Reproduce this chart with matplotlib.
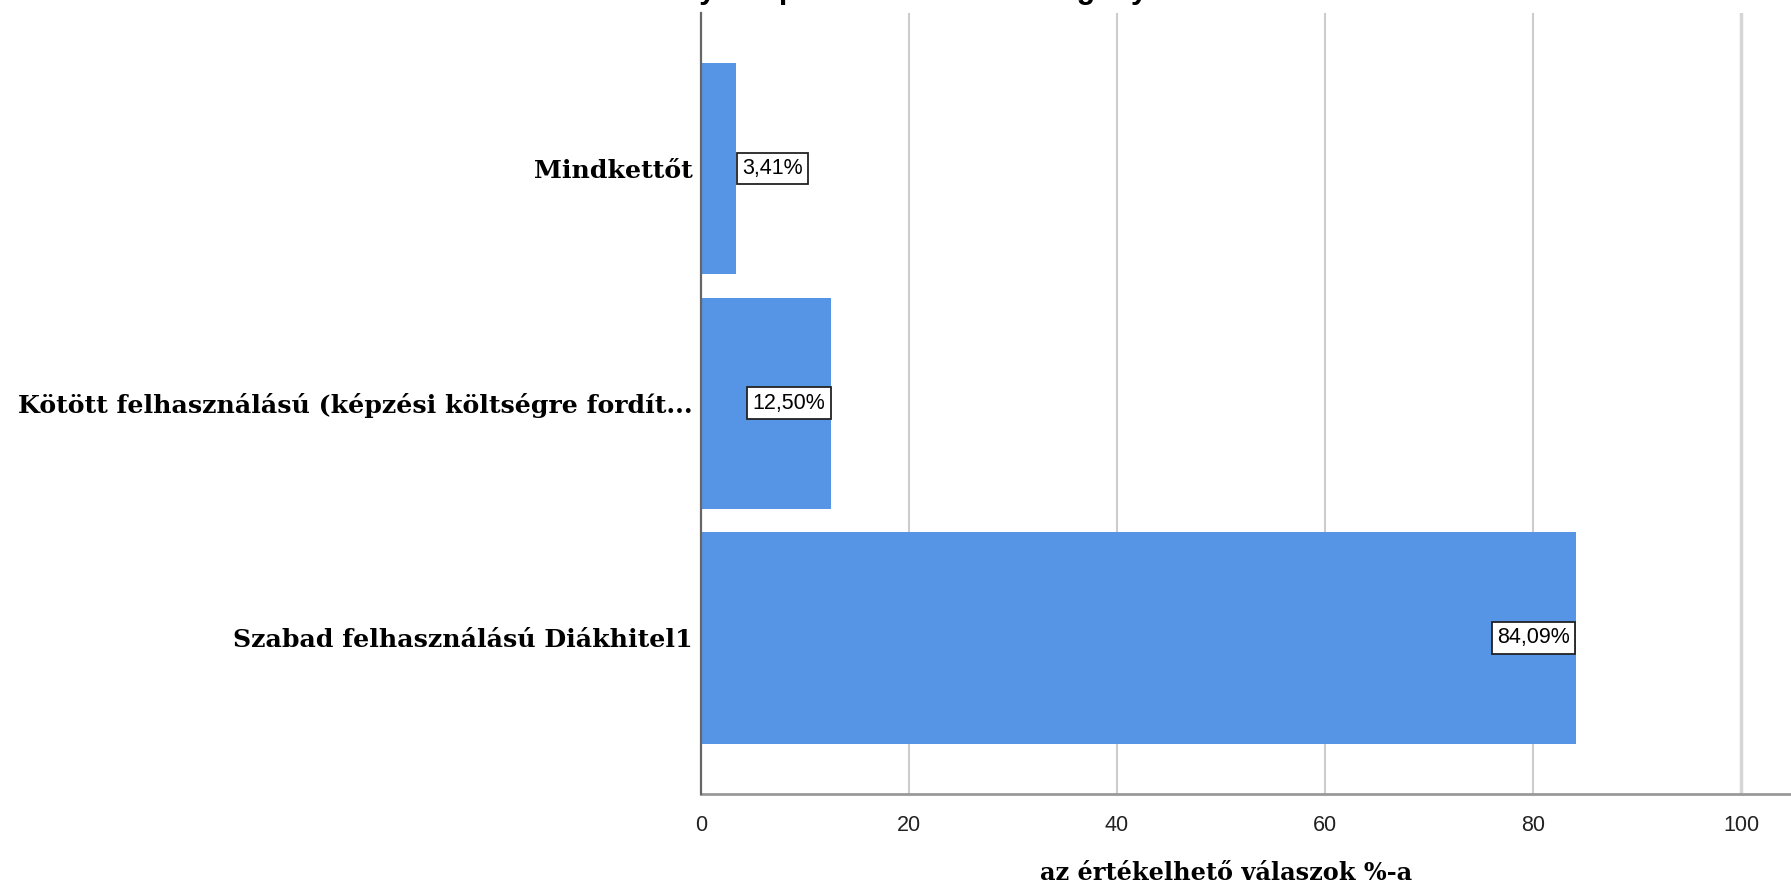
import matplotlib
matplotlib.use("Agg")
import matplotlib.pyplot as plt

# answer categories, bottom to top as drawn
categories = ["Szabad felhasználású Diákhitel1",
              "Kötött felhasználású (képzési költségre fordít...",
              "Mindkettőt"]
percents = [84.09, 12.50, 3.41]
value_labels = ["84,09%", "12,50%", "3,41%"]
xticks = [0, 20, 40, 60, 80, 100]

title = "Milyen típusú Diákhitelt vett igénybe?"
xlabel = "az értékelhető válaszok %-a"

barColor = "#5694E5"
serif = "DejaVu Serif"
sans = "Liberation Sans"

fig = plt.figure(figsize=(17.91, 8.88), dpi=100)
ax = fig.add_axes([701/1791, 1 - 794/888, 1 - 701/1791, (794 - 13)/888])

ypos = list(range(len(categories)))
ax.barh(ypos, percents, height=0.9, color=barColor, zorder=2)

# value labels in boxes; the small one sits right of the bar end
for i in ypos:
	if percents[i] < 5:
		off, ha = 4, "left"
	else:
		off, ha = -4, "right"
	ax.annotate(value_labels[i], xy=(percents[i], i), xytext=(off, 0),
		textcoords="offset points", ha=ha, va="center",
		fontsize=15.5, family=sans, zorder=4,
		bbox=dict(boxstyle="square,pad=0.25", fc="white", ec="#222222", lw=1.3))

ax.set_xlim(0, 104.8)
ax.set_ylim(-0.665, 2.662)
ax.set_yticks(ypos)
ax.set_yticklabels(categories, family=serif, fontweight="bold", fontsize=18.2)
ax.set_xticks(xticks)
ax.set_xticklabels([str(t) for t in xticks], family=sans, fontsize=15.5, color="#222222")
ax.tick_params(axis="y", length=0, pad=6)
ax.tick_params(axis="x", length=0, pad=15)

ax.set_xlabel(xlabel, family=serif, fontweight="bold", fontsize=17.3)
ax.xaxis.label.set_va("center")
ax.xaxis.set_label_coords(0.482, -0.101)

ax.set_axisbelow(True)
ax.xaxis.grid(True, color="#cccccc", lw=1.5)
gl = ax.get_xgridlines()
gl[0].set_visible(False)
gl[-1].set_linewidth(2.5)
gl[-1].set_color("#d6d6d6")

for s in ["top", "right"]:
	ax.spines[s].set_visible(False)
ax.spines["left"].set_color("#666666")
ax.spines["left"].set_linewidth(1.6)
ax.spines["left"].set_zorder(3)
ax.spines["bottom"].set_color("#999999")
ax.spines["bottom"].set_linewidth(2)

# title is cut off by the top edge in the original, only descenders show
fig.text(657/1791, 1 + 2/888, title, ha="left", va="baseline",
	family=sans, fontweight="bold", fontsize=22)

fig.savefig("out.png", dpi=100)
